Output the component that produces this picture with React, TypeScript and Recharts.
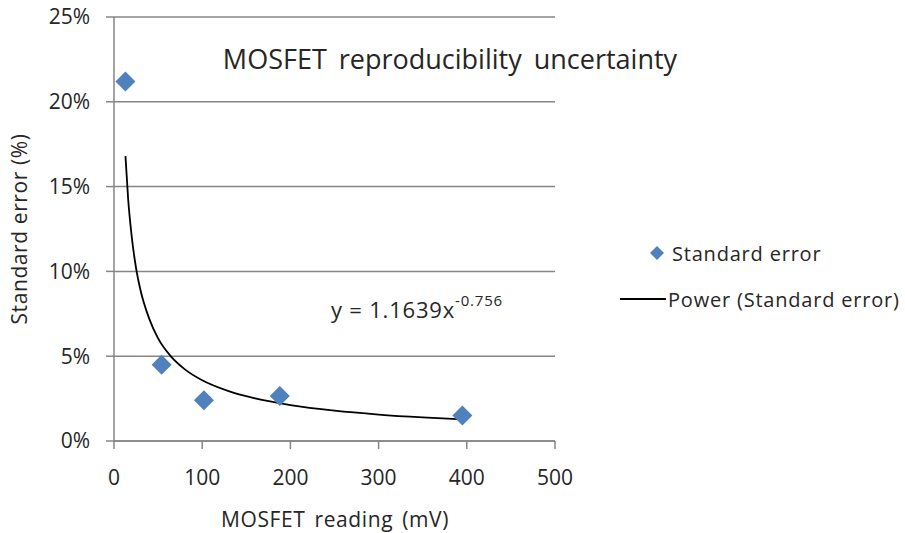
import {
  CartesianGrid,
  Customized,
  Scatter,
  ScatterChart,
  XAxis,
  YAxis,
} from "recharts";

const readingMv = [13, 54, 102, 188, 395];
const stdErrorPct = [21.2, 4.5, 2.4, 2.65, 1.5];

// Power trend line
const trendMv = [13, 16, 20, 25, 30, 40, 50, 65, 80, 100, 130, 160, 200, 250, 300, 350, 395];
const trendPct = [16.8, 14.3, 12.1, 10.2, 8.9, 7.2, 6.05, 4.96, 4.24, 3.58, 2.94, 2.51, 2.12, 1.79, 1.56, 1.39, 1.27];

const xTicks = [0, 100, 200, 300, 400, 500];
const yTicks = [0, 5, 10, 15, 20, 25];

const points = readingMv.map((x, i) => ({ x, y: stdErrorPct[i] }));
const trend = trendMv.map((x, i) => ({ x, y: trendPct[i] }));

const FONT = "'Open Sans', sans-serif";
const TEXT = "#262626";
const GRID = "#868686";
const BLUE = "#4F81BD";

function Diamond(props: any) {
  const { cx, cy } = props;
  const r = 10;
  return (
    <path
      d={`M${cx},${cy - r}L${cx + r},${cy}L${cx},${cy + r}L${cx - r},${cy}Z`}
      fill={BLUE}
    />
  );
}

function Labels() {
  return (
    <g fontFamily={FONT} fill={TEXT}>
      <text x={450} y={69} fontSize={27} textAnchor="middle" wordSpacing={5}>
        MOSFET reproducibility uncertainty
      </text>
      <text x={335} y={527} fontSize={21} textAnchor="middle" wordSpacing={3} letterSpacing={0.6}>
        MOSFET reading (mV)
      </text>
      <text
        x={0}
        y={0}
        fontSize={21}
        textAnchor="middle"
        letterSpacing={0.6}
        transform="translate(27,229) rotate(-90)"
      >
        Standard error (%)
      </text>
      <text x={331} y={318} fontSize={22} letterSpacing={0.8}>
        y = 1.1639x
        <tspan fontSize={15} dy={-12}>
          -0.756
        </tspan>
      </text>
    </g>
  );
}

function LegendBox() {
  return (
    <div
      style={{
        position: "absolute",
        left: 620,
        top: 237,
        fontFamily: FONT,
        fontSize: 20,
        letterSpacing: 0.8,
        color: TEXT,
        whiteSpace: "nowrap",
      }}
    >
      <div style={{ display: "flex", alignItems: "center", height: 32 }}>
        <svg width={52} height={20}>
          <path d="M37,3L44,10L37,17L30,10Z" fill={BLUE} />
        </svg>
        <span>Standard error</span>
      </div>
      <div style={{ display: "flex", alignItems: "center", height: 32, marginTop: 14 }}>
        <svg width={48} height={20}>
          <line x1={0} y1={10} x2={46} y2={10} stroke="#000" strokeWidth={2} />
        </svg>
        <span>Power (Standard error)</span>
      </div>
    </div>
  );
}

export default function App() {
  return (
    <div style={{ position: "absolute", left: 0, top: 0, width: 905, height: 533, background: "#fff" }}>
      <ScatterChart
        width={905}
        height={533}
        margin={{ top: 17, right: 350, bottom: 0, left: 0 }}
      >
        <CartesianGrid vertical={false} stroke={GRID} strokeWidth={1.5} />
        <XAxis
          type="number"
          dataKey="x"
          domain={[0, 500]}
          ticks={xTicks}
          height={92}
          tickSize={8}
          tickMargin={21}
          stroke={GRID}
          strokeWidth={1.5}
          tick={{ fill: TEXT, fontSize: 21, fontFamily: FONT }}
        />
        <YAxis
          type="number"
          dataKey="y"
          domain={[0, 25]}
          ticks={yTicks}
          width={114}
          tickSize={8}
          tickMargin={16}
          stroke={GRID}
          strokeWidth={1.5}
          tickFormatter={(v: number) => `${v}%`}
          tick={{ fill: TEXT, fontSize: 21, fontFamily: FONT }}
        />
        <Scatter
          name="Power (Standard error)"
          data={trend}
          line={{ stroke: "#000", strokeWidth: 1.8 }}
          lineJointType="monotoneX"
          shape={() => null}
          isAnimationActive={false}
        />
        <Scatter
          name="Standard error"
          data={points}
          shape={Diamond}
          isAnimationActive={false}
        />
        <Customized component={Labels} />
      </ScatterChart>
      <LegendBox />
    </div>
  );
}
